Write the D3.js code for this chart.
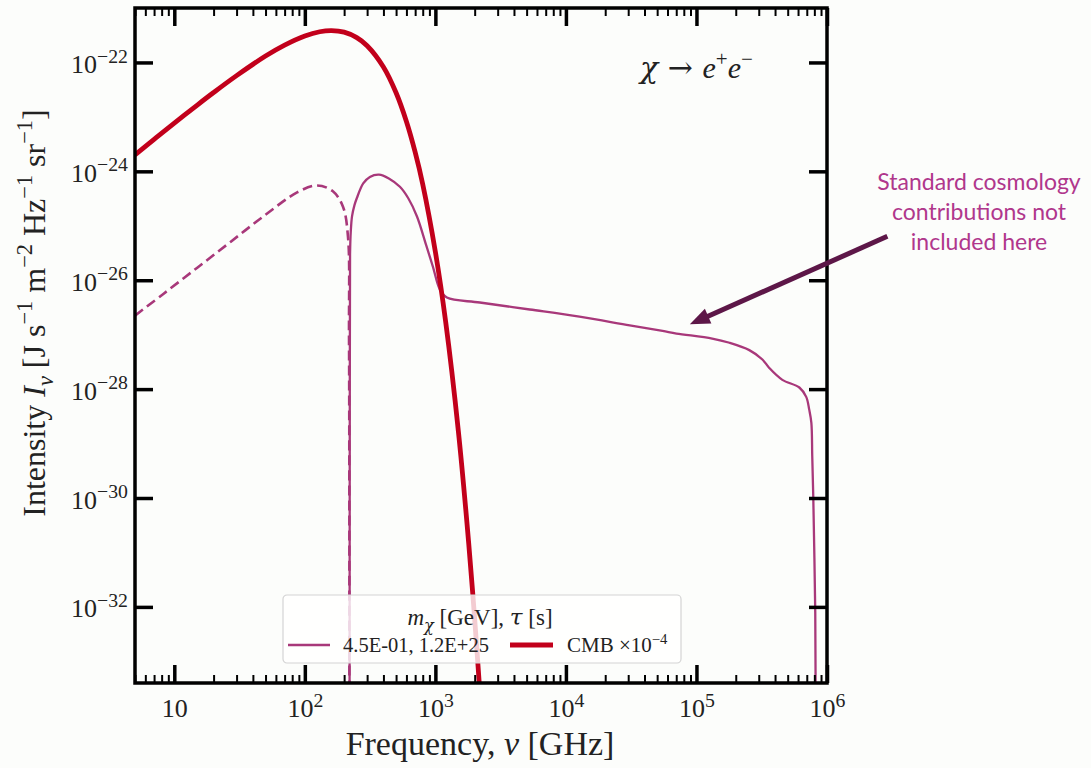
<!DOCTYPE html>
<html>
<head>
<meta charset="utf-8">
<script src="https://cdn.jsdelivr.net/npm/d3@7"></script>
<style>
  body { margin: 0; background: #fcfdfb; }
  svg { display: block; font-family: "Liberation Serif", "DejaVu Serif", serif; }
</style>
</head>
<body>
<div id="chart"></div>
<script>
// DATA
// CMB spectrum x 1e-4  [nu in GHz, intensity]
const cmbNu = [5, 7, 10, 15, 20, 30, 50, 70, 100, 130, 160, 200, 250, 300, 400, 500, 600, 700, 800, 1000, 1200, 1500, 1800, 2000, 2200];
const cmbI  = [2.0e-24, 3.86e-24, 7.66e-24, 1.65e-23, 2.80e-23, 5.72e-23, 1.31e-22, 2.08e-22, 3.06e-22, 3.66e-22, 3.84e-22, 3.60e-22, 2.86e-22, 2.03e-22, 8.26e-23, 2.77e-23, 8.23e-24, 2.25e-24, 5.81e-25, 3.32e-26, 1.70e-27, 1.69e-29, 1.48e-31, 6.0e-33, 2.4e-34];

// decay distortion, negative part (shown dashed, absolute value)
const negNu = [5, 8.24, 15, 26.8, 48, 87.3, 124, 164, 196, 214, 218, 219.3];
const negI  = [2.24e-27, 5.6e-27, 1.7e-26, 5.0e-26, 1.48e-25, 4.1e-25, 5.5e-25, 4.3e-25, 2.24e-25, 6.3e-26, 8.0e-28, 1e-35];

// decay distortion, positive part (solid)
const posNu = [220, 221, 222, 225, 230, 240, 250, 280, 315, 370, 440, 535, 620, 723, 850, 957, 1081, 1225, 2190, 5280, 12700, 30800, 55000, 70300, 132000, 179000, 254000, 320000, 361000, 455000, 614000, 693000, 731000, 759000, 771000, 785000, 798000, 813000, 820000];
const posI  = [1e-35, 1e-28, 3e-26, 8e-26, 1.5e-25, 2.4e-25, 3.2e-25, 6.0e-25, 7.9e-25, 8.7e-25, 7.4e-25, 5.2e-25, 3.2e-25, 1.48e-25, 4.4e-26, 1.78e-26, 6.8e-27, 4.8e-27, 3.9e-27, 2.9e-27, 2.14e-27, 1.48e-27, 1.17e-27, 1.05e-27, 8.5e-28, 7.1e-28, 5.2e-28, 3.5e-28, 2.45e-28, 1.48e-28, 1.07e-28, 7.2e-29, 4.2e-29, 2.4e-29, 5.8e-30, 1.05e-30, 1.26e-31, 7.8e-33, 1e-35];

const xMajor = [10, 1e2, 1e3, 1e4, 1e5, 1e6];
const yMajor = [1e-22, 1e-24, 1e-26, 1e-28, 1e-30, 1e-32];

const legendTitle = [{t: 'm', i: true}, {t: 'χ', s: 'sub', i: true, g: true}, {t: ' [GeV],  '}, {t: 'τ', i: true, g: true}, {t: ' [s]'}];
const legendDM = '4.5E-01, 1.2E+25';
const legendCMB = [{t: 'CMB ×10'}, {t: '−4', s: 'sup'}];
const channel = [{t: 'χ', i: true, g: true}, {t: ' → ', g: true}, {t: 'e', i: true}, {t: '+', s: 'sup'}, {t: 'e', i: true}, {t: '−', s: 'sup'}];
const noteLines = ['Standard cosmology', 'contributions not', 'included here'];

const xLabel = [{t: 'Frequency, '}, {t: 'ν', i: true}, {t: ' [GHz]'}];
const yLabel = [{t: 'Intensity '}, {t: 'I', i: true}, {t: 'ν', s: 'sub', i: true}, {t: ' [J s'}, {t: '−1', s: 'sup'},
                {t: ' m'}, {t: '−2', s: 'sup'}, {t: ' Hz'}, {t: '−1', s: 'sup'}, {t: ' sr'}, {t: '−1', s: 'sup'}, {t: ']'}];

const CMB_COLOR = '#c2001b';
const DM_COLOR = '#a8387a';

// rich text with super/subscripts
function rich(textSel, parts, fs, small) {
  let shift = 0;
  small = small || 0.7;
  parts.forEach(p => {
    const target = p.s === 'sup' ? -0.4 * fs : p.s === 'sub' ? 0.25 * fs : 0;
    textSel.append('tspan')
      .attr('dy', target - shift)
      .attr('font-size', p.s ? fs * small : fs)
      .attr('font-style', p.i ? 'italic' : null)
      .attr('font-family', p.g ? '"DejaVu Serif", serif' : null)
      .text(p.t);
    shift = target;
  });
}

function powParts(v) {
  const e = Math.round(Math.log10(v));
  if (e === 1) return [{t: '10'}];
  return [{t: '10'}, {t: String(e).replace('-', '−'), s: 'sup'}];
}

const W = 1091, H = 768;
const margin = {top: 8, left: 135, right: W - 827, bottom: H - 683};
const width = W - margin.left - margin.right;
const height = H - margin.top - margin.bottom;

const svg = d3.select('#chart').append('svg')
  .attr('width', W)
  .attr('height', H);

const g = svg.append('g')
  .attr('transform', 'translate(' + margin.left + ',' + margin.top + ')');

const x = d3.scaleLog().domain([5, 1e6]).range([0, width]);
const y = d3.scaleLog().domain([4e-34, 1e-21]).range([height, 0]);

g.append('clipPath').attr('id', 'clip')
  .append('rect').attr('width', width).attr('height', height);

const line = d3.line()
  .x(d => x(d[0]))
  .y(d => y(d[1]))
  .curve(d3.curveCatmullRom.alpha(0.5));

const plot = g.append('g').attr('clip-path', 'url(#clip)');

plot.append('path')
  .datum(d3.zip(negNu, negI))
  .attr('d', line)
  .attr('fill', 'none')
  .attr('stroke', DM_COLOR)
  .attr('stroke-width', 2.6)
  .attr('stroke-dasharray', '10,5');

plot.append('path')
  .datum(d3.zip(posNu, posI))
  .attr('d', line)
  .attr('fill', 'none')
  .attr('stroke', DM_COLOR)
  .attr('stroke-width', 2.3);

plot.append('path')
  .datum(d3.zip(cmbNu, cmbI))
  .attr('d', line)
  .attr('fill', 'none')
  .attr('stroke', CMB_COLOR)
  .attr('stroke-width', 4.8);

// AXES
const xMinor = x.ticks().filter(v => xMajor.indexOf(v) < 0 && Math.abs(Math.log10(v) % 1) > 1e-6);

function styleTicks(sel, w) {
  sel.select('.domain').remove();
  sel.selectAll('.tick line').attr('stroke', '#000').attr('stroke-width', w);
}

// bottom
g.append('g')
  .attr('transform', 'translate(0,' + height + ')')
  .call(d3.axisBottom(x).tickValues(xMinor).tickSize(-8).tickFormat(''))
  .call(styleTicks, 2);
const xAx = g.append('g')
  .attr('transform', 'translate(0,' + height + ')')
  .call(d3.axisBottom(x).tickValues(xMajor).tickSize(-18).tickSizeOuter(0))
  .call(styleTicks, 3.5);
xAx.selectAll('.tick text')
  .attr('y', 34).attr('dy', null)
  .attr('fill', '#222')
  .attr('font-family', '"Liberation Serif", serif')
  .each(function(d) {
    const t = d3.select(this).text(null);
    rich(t, powParts(d), 26, 0.76);
  });

// top
g.append('g')
  .call(d3.axisTop(x).tickValues(xMinor).tickSize(-8).tickFormat(''))
  .call(styleTicks, 2);
g.append('g')
  .call(d3.axisTop(x).tickValues(xMajor).tickSize(-18).tickFormat(''))
  .call(styleTicks, 3.5);

// left
const yAx = g.append('g')
  .call(d3.axisLeft(y).tickValues(yMajor).tickSize(-18).tickSizeOuter(0))
  .call(styleTicks, 3.5);
yAx.selectAll('.tick text')
  .attr('x', -7).attr('y', 10).attr('dy', null)
  .attr('fill', '#222')
  .attr('font-family', '"Liberation Serif", serif')
  .each(function(d) {
    const t = d3.select(this).text(null);
    rich(t, powParts(d), 26, 0.76);
  });

// right
g.append('g')
  .attr('transform', 'translate(' + width + ',0)')
  .call(d3.axisRight(y).tickValues(yMajor).tickSize(-18).tickFormat(''))
  .call(styleTicks, 3.5);

// frame
g.append('rect')
  .attr('width', width).attr('height', height)
  .attr('fill', 'none')
  .attr('stroke', '#000')
  .attr('stroke-width', 3.5);

// axis labels
const xl = svg.append('text')
  .attr('x', 480)
  .attr('y', 755)
  .attr('text-anchor', 'middle')
  .attr('fill', '#222');
rich(xl, xLabel, 34);

const yl = svg.append('text')
  .attr('transform', 'translate(45,313) rotate(-90)')
  .attr('text-anchor', 'middle')
  .attr('fill', '#222');
rich(yl, yLabel, 32);

// channel label
const ch = g.append('text')
  .attr('x', x(1e5))
  .attr('y', 70)
  .attr('text-anchor', 'middle')
  .attr('fill', '#222');
rich(ch, channel, 30);

// LEGEND
const leg = svg.append('g').attr('transform', 'translate(283,595)');
leg.append('rect')
  .attr('width', 398).attr('height', 68)
  .attr('rx', 4)
  .attr('fill', 'rgba(255,255,255,0.8)')
  .attr('stroke', '#d4d4d4')
  .attr('stroke-width', 1.2);
const lt = leg.append('text')
  .attr('x', 197).attr('y', 30)
  .attr('text-anchor', 'middle')
  .attr('fill', '#222');
rich(lt, legendTitle, 23);
leg.append('line')
  .attr('x1', 5).attr('x2', 47).attr('y1', 50).attr('y2', 50)
  .attr('stroke', DM_COLOR).attr('stroke-width', 2.6);
leg.append('text')
  .attr('x', 60).attr('y', 57)
  .attr('font-size', 20.5)
  .attr('fill', '#222')
  .text(legendDM);
leg.append('line')
  .attr('x1', 227).attr('x2', 270).attr('y1', 50).attr('y2', 50)
  .attr('stroke', CMB_COLOR).attr('stroke-width', 5);
const lc = leg.append('text')
  .attr('x', 284).attr('y', 57)
  .attr('fill', '#222');
rich(lc, legendCMB, 21);

// ANNOTATION
const note = svg.append('text')
  .attr('text-anchor', 'middle')
  .attr('font-family', 'Lato, "Open Sans", sans-serif')
  .attr('font-size', 23)
  .attr('fill', '#b0378c');
note.selectAll('tspan')
  .data(noteLines)
  .enter()
  .append('tspan')
  .attr('x', 979)
  .attr('y', (d, i) => 190 + i * 30)
  .text(d => d);

// arrow, from outside the frame to the curve near 1e5 GHz
const tail = [margin.left + x(2.9e6), margin.top + y(6.4e-26)];
const tip = [margin.left + x(8.9e4), margin.top + y(1.55e-27)];
const ang = Math.atan2(tip[1] - tail[1], tip[0] - tail[0]);
const headLen = 20, headW = 8;
const base = [tip[0] - headLen * Math.cos(ang), tip[1] - headLen * Math.sin(ang)];
svg.append('line')
  .attr('x1', tail[0]).attr('y1', tail[1])
  .attr('x2', base[0] + 2 * Math.cos(ang)).attr('y2', base[1] + 2 * Math.sin(ang))
  .attr('stroke', '#5d1748')
  .attr('stroke-width', 5);
svg.append('path')
  .attr('d', d3.line()([
    tip,
    [base[0] + headW * Math.sin(ang), base[1] - headW * Math.cos(ang)],
    [base[0] - headW * Math.sin(ang), base[1] + headW * Math.cos(ang)]
  ]) + 'Z')
  .attr('fill', '#5d1748');
</script>
</body>
</html>
